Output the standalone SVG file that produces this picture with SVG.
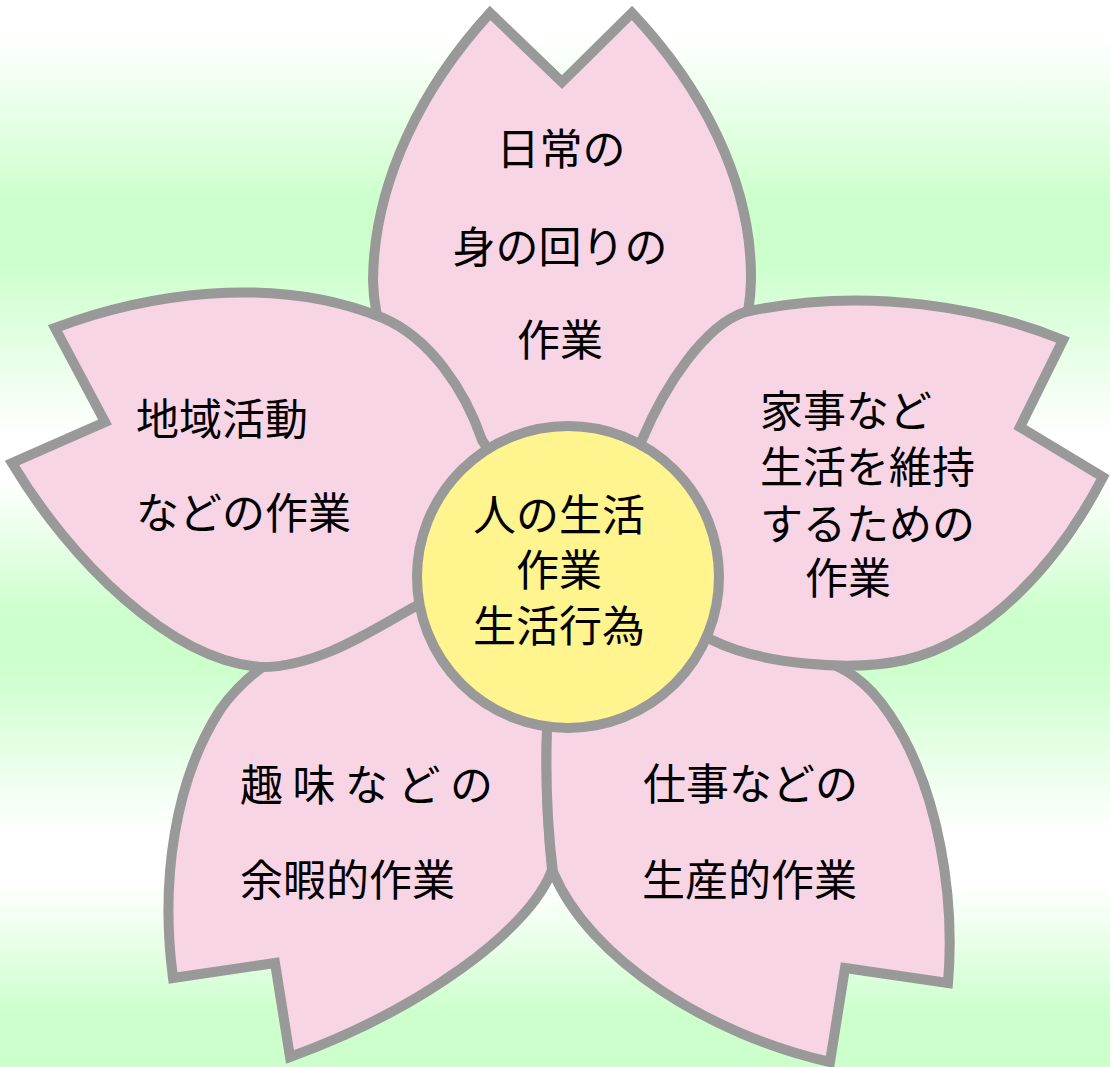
<svg xmlns="http://www.w3.org/2000/svg" width="1110" height="1067" viewBox="0 0 1110 1067">
  <defs>
    <linearGradient id="bg" x1="0" y1="0" x2="0" y2="1">
      <stop offset="0" stop-color="#ffffff"/>
      <stop offset="0.035" stop-color="#ffffff"/>
      <stop offset="0.19" stop-color="#ccffcc"/>
      <stop offset="0.245" stop-color="#ccffcc"/>
      <stop offset="0.41" stop-color="#ffffff"/>
      <stop offset="0.45" stop-color="#ffffff"/>
      <stop offset="0.575" stop-color="#ccffcc"/>
      <stop offset="0.625" stop-color="#ccffcc"/>
      <stop offset="0.78" stop-color="#ffffff"/>
      <stop offset="0.83" stop-color="#ffffff"/>
      <stop offset="0.95" stop-color="#ccffcc"/>
      <stop offset="1" stop-color="#ccffcc"/>
    </linearGradient>
  </defs>
  <style>
    .petal { fill: #f8d5e5; stroke: #999999; stroke-width: 10; stroke-linejoin: miter; }
    .core { fill: #fff48e; stroke: #999999; stroke-width: 10; }
    .t { font-family: "Noto Sans CJK JP", "Noto Sans", sans-serif; font-size: 43px; fill: #000000; }
    .m { text-anchor: middle; }
  </style>
  <rect x="0" y="0" width="1110" height="1067" fill="url(#bg)"/>

  <g id="petal-top">
    <path class="petal" d="M 562,82 L 632,13 C 700,85 752,180 751,280 C 750,360 700,450 568,577 C 430,450 374,360 373,280 C 374,180 424,85 490,13 Z"/>
    <text class="t m" x="561" y="165">日常の</text>
    <text class="t m" x="560" y="263">身の回りの</text>
    <text class="t m" x="560" y="356">作業</text>
  </g>

  <g id="petal-bottom-left">
    <path class="petal" d="M 275,963 L 173,978 C 160,880 175,780 220,710 C 255,660 320,625 415,605 L 568,577 L 547,730 C 545,790 549,840 552,870 C 530,930 420,1010 290,1057 Z"/>
    <text class="t" x="240" y="801" letter-spacing="9.5">趣味などの</text>
    <text class="t" x="240" y="896">余暇的作業</text>
  </g>

  <g id="petal-bottom-right">
    <path class="petal" d="M 845,968 L 948,983 C 955,900 940,790 890,715 C 870,685 850,665 790,650 L 568,577 L 547,730 C 545,790 549,840 553,872 C 590,960 710,1035 830,1062 Z"/>
    <text class="t" x="643" y="800">仕事などの</text>
    <text class="t" x="642" y="896">生産的作業</text>
  </g>

  <g id="petal-left">
    <path class="petal" d="M 105,422 L 55,328 C 140,296 270,272 383,318 C 430,338 465,390 482,440 L 568,577 L 418,605 C 380,625 320,668 260,667 C 170,660 70,560 12,463 Z"/>
    <text class="t" x="136" y="435">地域活動</text>
    <text class="t" x="136" y="529">などの作業</text>
  </g>

  <g id="petal-right">
    <path class="petal" d="M 1020,427 L 1063,340 C 990,310 870,285 745,312 C 705,325 665,385 642,440 L 568,577 L 712,640 C 760,664 850,672 905,660 C 990,640 1060,560 1103,477 Z"/>
    <text class="t" x="760" y="427">家事など</text>
    <text class="t" x="760" y="483">生活を維持</text>
    <text class="t" x="760" y="540">するための</text>
    <text class="t" x="805" y="594">作業</text>
  </g>

  <g id="center">
    <circle class="core" cx="568" cy="577" r="151"/>
    <text class="t m" x="559" y="531">人の生活</text>
    <text class="t m" x="559" y="586">作業</text>
    <text class="t m" x="559" y="642">生活行為</text>
  </g>

  <g id="connectors"/>
</svg>
